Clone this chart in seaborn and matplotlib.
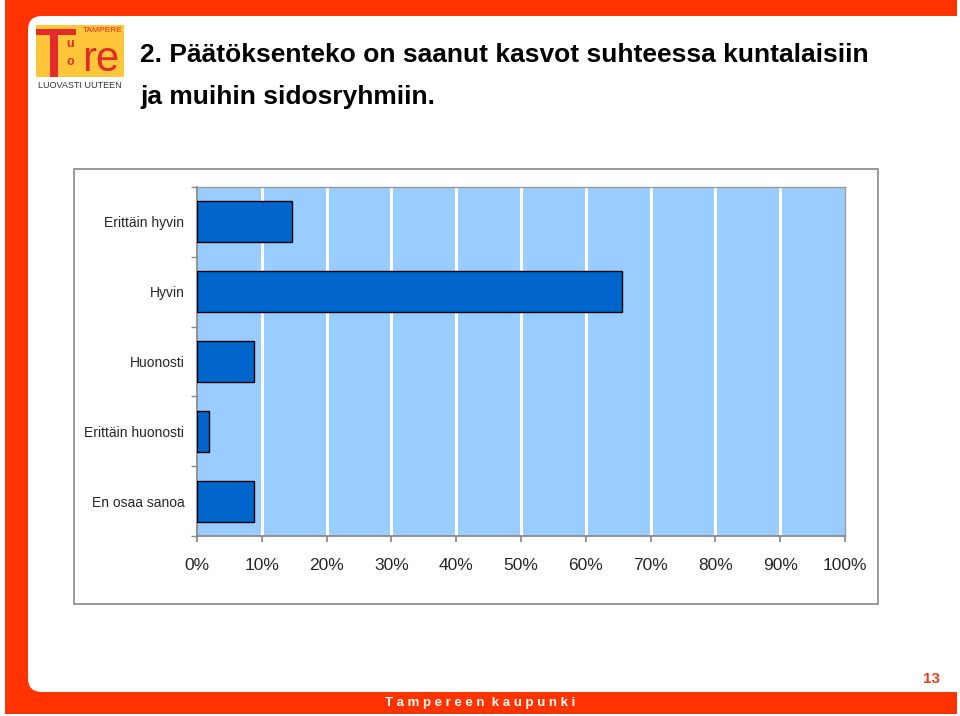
import matplotlib
matplotlib.use("Agg")
import matplotlib.pyplot as plt
from matplotlib.patches import Rectangle, FancyBboxPatch
import seaborn as sns
import pandas as pd

categories = ["Erittäin hyvin", "Hyvin", "Huonosti", "Erittäin huonosti", "En osaa sanoa"]
values = [14.7, 65.6, 8.8, 1.9, 8.8]
xtick_values = [0, 10, 20, 30, 40, 50, 60, 70, 80, 90, 100]
xtick_labels = [f"{v}%" for v in xtick_values]

title_line1 = "2. Päätöksenteko on saanut kasvot suhteessa kuntalaisiin"
title_line2 = "ja muihin sidosryhmiin."

sns.set_theme(style="white")
plt.rcParams['font.family'] = ['Liberation Sans', 'DejaVu Sans']

W, H = 960, 716
fig = plt.figure(figsize=(9.6, 7.16), dpi=100)
fig.patch.set_facecolor("white")

ORANGE = "#FF3300"

def fx(x):
    return x / W

def fy(y):
    return 1 - y / H

# slide frame
bg = fig.add_axes([0, 0, 1, 1])
bg.set_xlim(0, W)
bg.set_ylim(H, 0)
bg.axis("off")
bg.add_patch(Rectangle((5, 0), 952, 714, facecolor=ORANGE, edgecolor="none"))
bg.add_patch(FancyBboxPatch((28 + 14, 16 + 14), 960 - 28 - 14 + 40, 692 - 16 - 28,
                            boxstyle="round,pad=14,rounding_size=14",
                            facecolor="white", edgecolor="none"))
bg.add_patch(Rectangle((957, 0), 10, 720, facecolor="white", edgecolor="none"))

# logo
bg.add_patch(Rectangle((36, 25), 88, 52, facecolor="#FFC63A", edgecolor="none"))
bg.add_patch(Rectangle((36, 29), 40, 6, facecolor="#E32B2B", edgecolor="none"))
bg.add_patch(Rectangle((50, 29), 8, 48, facecolor="#E32B2B", edgecolor="none"))
bg.text(70, 44, "u", color="#E32B2B", fontsize=9, fontweight="bold", ha="center", va="center")
bg.text(70, 62, "o", color="#E32B2B", fontsize=9, fontweight="bold", ha="center", va="center")
bg.text(101, 60, "re", color="#E32B2B", fontsize=30, ha="center", va="center")
bg.text(123, 30, "TAMPERE", color="#E32B2B", fontsize=6, ha="right", va="center")
bg.text(80, 86, "LUOVASTI UUTEEN", color="#333333", fontsize=6.5, ha="center", va="center")

# title
bg.text(140, 55, title_line1, fontsize=19, fontweight="bold", color="black",
        ha="left", va="center")
bg.text(140, 97, title_line2, fontsize=19, fontweight="bold", color="black",
        ha="left", va="center")

# chart frame
bg.add_patch(Rectangle((74, 169), 804, 435, facecolor="white", edgecolor="#888888", linewidth=1.2))

# page number & footer
bg.text(932, 679, "13", color="#E8401C", fontsize=11, fontweight="bold", ha="center", va="center")
bg.text(480, 703, "  ".join(" ".join(w) for w in "Tampereen kaupunki".split()),
        color="white", fontsize=9.5, fontweight="bold", ha="center", va="center")

# chart
ax = fig.add_axes([fx(197), fy(536), 648 / W, 349 / H])
df = pd.DataFrame({"category": categories, "value": values})
sns.barplot(data=df, x="value", y="category", orient="h", ax=ax,
            color="#0066CC", saturation=1, width=0.59,
            edgecolor="black", linewidth=1.0, zorder=3)
ax.set_facecolor("#99CCFF")
ax.set_xlim(0, 100)
ax.set_ylim(4.5, -0.5)
ax.set_xticks(xtick_values)
ax.set_xticklabels(xtick_labels, fontsize=12.5)
for v in xtick_values[1:-1]:
    ax.axvline(v, color="white", linewidth=2.2, zorder=1)
ax.set_xlabel("")
ax.set_ylabel("")
ax.set_yticks(range(len(categories)))
ax.set_yticklabels(categories, fontsize=10)
ax.set_yticks([i + 0.5 for i in range(-1, len(categories))], minor=True)
ax.tick_params(axis="y", which="major", length=0, pad=9)
ax.tick_params(axis="y", which="minor", length=4, color="#888888", direction="out", left=True)
ax.tick_params(axis="x", which="major", length=4, color="#888888", direction="out",
               bottom=True, pad=12)
for side in ["top", "right"]:
    ax.spines[side].set_visible(True)
    ax.spines[side].set_color("#999999")
    ax.spines[side].set_linewidth(1)
ax.spines["left"].set_color("#888888")
ax.spines["bottom"].set_color("#888888")
ax.grid(False)

fig.savefig("out.png", dpi=100)
